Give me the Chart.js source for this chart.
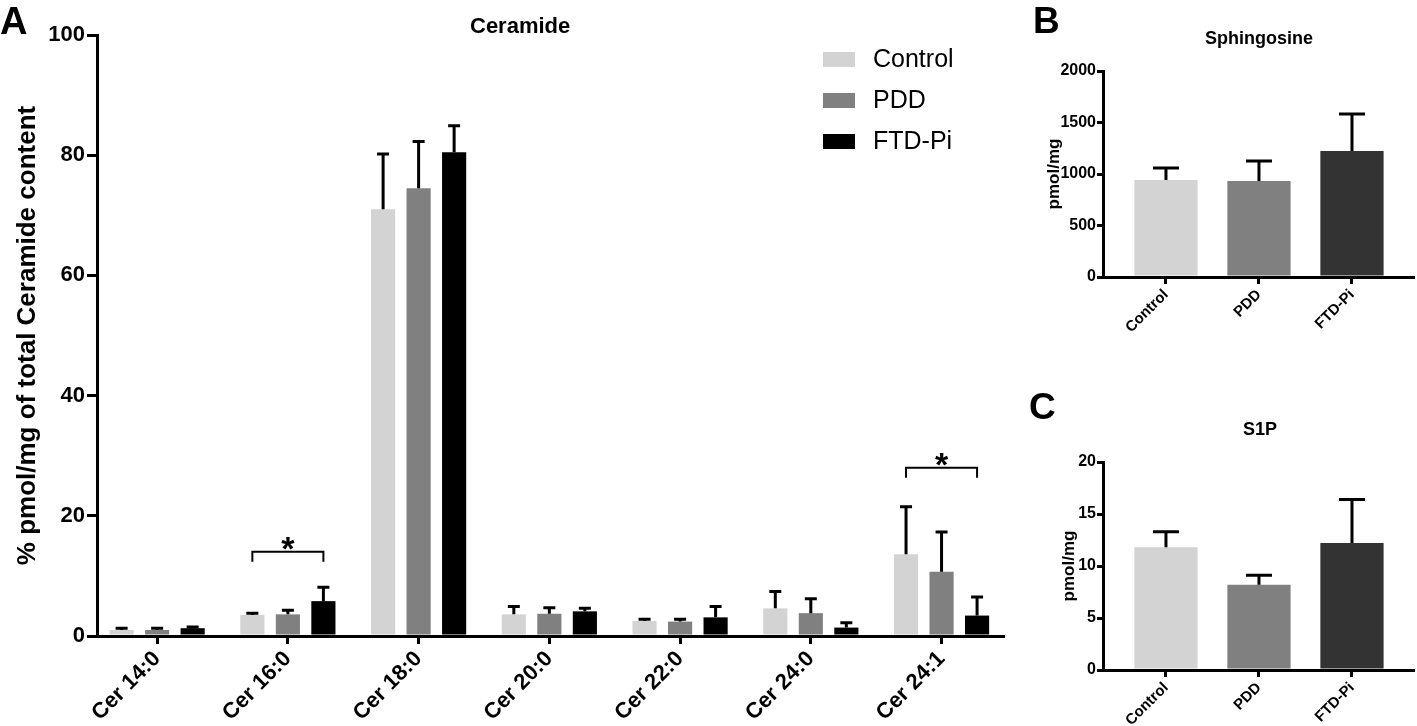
<!DOCTYPE html>
<html>
<head>
<meta charset="utf-8">
<script src="https://cdn.jsdelivr.net/npm/chart.js@4.4.1/dist/chart.umd.min.js"></script>
<style>
  body { margin: 0; background: #fff; }
  #page { position: relative; width: 1417px; height: 726px; overflow: hidden; background: #fff; }
  .box { position: absolute; }
  .txt { position: absolute; font-family: "Liberation Sans", Arial, sans-serif; font-weight: bold; color: #000; line-height: 1; white-space: nowrap; }
</style>
</head>
<body>
<div id="page">
  <div class="box" style="left:0;top:0;"><canvas id="chartA" width="1010" height="726"></canvas></div>
  <div class="box" style="left:1010px;top:0;"><canvas id="chartB" width="407" height="363"></canvas></div>
  <div class="box" style="left:1010px;top:363px;"><canvas id="chartC" width="407" height="363"></canvas></div>

  <div class="txt" style="left:0;top:2px;font-size:38px;">A</div>
  <div class="txt" style="left:1033px;top:2px;font-size:37px;">B</div>
  <div class="txt" style="left:1029px;top:388px;font-size:37px;">C</div>

  <div class="txt" style="left:470px;top:15px;font-size:22px;">Ceramide</div>
  <div class="txt" style="left:1205px;top:29px;font-size:18px;">Sphingosine</div>
  <div class="txt" style="left:1243px;top:420px;font-size:18px;">S1P</div>
</div>

<script>
// Panel A: ceramide species, % of total ceramide
const categories = ['Cer 14:0', 'Cer 16:0', 'Cer 18:0', 'Cer 20:0', 'Cer 22:0', 'Cer 24:0', 'Cer 24:1'];
const controlMean = [1.0, 3.5, 71.0, 3.6, 2.5, 4.6, 13.6];
const controlErr  = [0.3, 0.3, 9.2, 1.3, 0.3, 2.8, 7.9];
const pddMean     = [1.0, 3.6, 74.5, 3.7, 2.4, 3.8, 10.7];
const pddErr      = [0.3, 0.7, 7.8, 1.0, 0.4, 2.4, 6.6];
const ftdMean     = [1.3, 5.8, 80.5, 4.1, 3.1, 1.4, 3.4];
const ftdErr      = [0.2, 2.3, 4.4, 0.5, 1.8, 0.8, 3.1];
const yTicksA     = [0, 20, 40, 60, 80, 100];

// significance brackets (Control vs FTD-Pi)
const sigCategories = [1, 6];
const sigLevels     = [14.0, 28.0];

// Panels B and C
const groups  = ['Control', 'PDD', 'FTD-Pi'];
const sphMean = [942, 932, 1223];
const sphErr  = [116, 194, 360];
const s1pMean = [11.8, 8.2, 12.2];
const s1pErr  = [1.5, 0.9, 4.2];

const FONT = '"Liberation Sans", Arial, sans-serif';
const colorsA = ['#d3d3d3', '#808080', '#000000'];
const colorsBC = ['#d3d3d3', '#808080', '#333333'];

// one-sided (upper) error bars
const errorBars = {
  id: 'errorBars',
  afterDatasetsDraw(chart, args, opts) {
    const ctx = chart.ctx;
    const y = chart.scales.y;
    chart.data.datasets.forEach((ds, i) => {
      const meta = chart.getDatasetMeta(i);
      meta.data.forEach((bar, j) => {
        const top = y.getPixelForValue(ds.data[j] + ds.errors[j]);
        ctx.save();
        ctx.strokeStyle = '#000';
        ctx.lineWidth = opts.lineWidth;
        ctx.beginPath();
        ctx.moveTo(bar.x, bar.y);
        ctx.lineTo(bar.x, top);
        ctx.moveTo(bar.x - opts.cap / 2, top);
        ctx.lineTo(bar.x + opts.cap / 2, top);
        ctx.stroke();
        ctx.restore();
      });
    });
  }
};

// significance brackets with asterisk
const brackets = {
  id: 'brackets',
  afterDatasetsDraw(chart) {
    const ctx = chart.ctx;
    const y = chart.scales.y;
    const first = chart.getDatasetMeta(0).data;
    const last = chart.getDatasetMeta(chart.data.datasets.length - 1).data;
    sigCategories.forEach((c, k) => {
      const x1 = first[c].x, x2 = last[c].x;
      const yy = y.getPixelForValue(sigLevels[k]);
      ctx.save();
      ctx.strokeStyle = '#000';
      ctx.lineWidth = 2;
      ctx.beginPath();
      ctx.moveTo(x1, yy + 10);
      ctx.lineTo(x1, yy);
      ctx.lineTo(x2, yy);
      ctx.lineTo(x2, yy + 10);
      ctx.stroke();
      ctx.fillStyle = '#000';
      ctx.font = 'bold 34px ' + FONT;
      ctx.textAlign = 'center';
      ctx.textBaseline = 'alphabetic';
      ctx.fillText('*', (x1 + x2) / 2, yy + 8);
      ctx.restore();
    });
  }
};

// legend inside the plot area, top right
const boxLegend = {
  id: 'boxLegend',
  afterDraw(chart) {
    const ctx = chart.ctx;
    ctx.save();
    chart.data.datasets.forEach((ds, i) => {
      const cy = 59 + i * 41;
      ctx.fillStyle = ds.backgroundColor;
      ctx.fillRect(823, cy - 7, 32, 15);
      ctx.fillStyle = '#000';
      ctx.font = '25px ' + FONT;
      ctx.textAlign = 'left';
      ctx.textBaseline = 'middle';
      ctx.fillText(ds.label, 873, cy + 1);
    });
    ctx.restore();
  }
};

function axisCommon(tickLen, width) {
  return {
    grid: { display: true, drawOnChartArea: false, drawTicks: true, tickLength: tickLen, color: '#000', lineWidth: width, offset: false },
    border: { display: true, color: '#000', width: width }
  };
}

// category axis with custom outer gap (fraction of a category at the left, total span)
function categorySpan(start, range) {
  return s => { s._startValue = start; s._valueRange = range; };
}

// ---- Panel A ----
new Chart(document.getElementById('chartA').getContext('2d'), {
  type: 'bar',
  data: {
    labels: categories,
    datasets: [
      { label: 'Control', data: controlMean, errors: controlErr, backgroundColor: colorsA[0] },
      { label: 'PDD', data: pddMean, errors: pddErr, backgroundColor: colorsA[1] },
      { label: 'FTD-Pi', data: ftdMean, errors: ftdErr, backgroundColor: colorsA[2] }
    ]
  },
  options: {
    responsive: false,
    animation: false,
    layout: { padding: { top: 35, right: 7, left: 0, bottom: 0 } },
    datasets: { bar: { categoryPercentage: 0.815, barPercentage: 0.68, borderWidth: 0 } },
    plugins: {
      legend: { display: false },
      title: { display: false },
      tooltip: { enabled: false },
      errorBars: { lineWidth: 3, cap: 12 }
    },
    scales: {
      x: Object.assign(axisCommon(8, 3), {
        afterFit: s => { s.height = 90; },
        afterBuildTicks: categorySpan(-0.46, 6.93),
        ticks: { color: '#000', font: { family: FONT, size: 22, weight: 'bold' }, minRotation: 45, maxRotation: 45, padding: 2 }
      }),
      y: Object.assign(axisCommon(10, 3), {
        min: 0, max: 100,
        afterFit: s => { s.width = 97; },
        afterBuildTicks: s => { s.ticks = yTicksA.map(v => ({ value: v })); },
        ticks: { color: '#000', font: { family: FONT, size: 22, weight: 'bold' }, padding: 2 },
        title: { display: true, text: '% pmol/mg of total Ceramide content', color: '#000', font: { family: FONT, size: 26, weight: 'bold' }, padding: { top: 12, bottom: 0 } }
      })
    }
  },
  plugins: [errorBars, brackets, boxLegend]
});

// ---- Panels B and C ----
function smallPanel(id, means, errs, maxV, step, padTop, plotH, titlePad) {
  new Chart(document.getElementById(id).getContext('2d'), {
    type: 'bar',
    data: {
      labels: groups,
      datasets: [{ label: id, data: means, errors: errs, backgroundColor: colorsBC }]
    },
    options: {
      responsive: false,
      animation: false,
      layout: { padding: { top: padTop, right: 4, left: 0, bottom: 0 } },
      datasets: { bar: { categoryPercentage: 0.8, barPercentage: 0.85, borderWidth: 0 } },
      plugins: {
        legend: { display: false },
        title: { display: false },
        tooltip: { enabled: false },
        errorBars: { lineWidth: 3, cap: 26 }
      },
      scales: {
        x: Object.assign(axisCommon(7, 3), {
          afterFit: s => { s.height = 363 - padTop - plotH; },
          afterBuildTicks: categorySpan(-0.677, 3.333),
          ticks: { color: '#000', font: { family: FONT, size: 15, weight: 'bold' }, minRotation: 45, maxRotation: 45, padding: 2 }
        }),
        y: Object.assign(axisCommon(6, 3), {
          min: 0, max: maxV,
          afterFit: s => { s.width = 93; },
          ticks: { color: '#000', stepSize: step, font: { family: FONT, size: 16, weight: 'bold' }, padding: 1, callback: v => String(v) },
          title: { display: true, text: 'pmol/mg', color: '#000', font: { family: FONT, size: 17, weight: 'bold' }, padding: { top: titlePad, bottom: 0 } }
        })
      }
    },
    plugins: [errorBars]
  });
}

smallPanel('chartB', sphMean, sphErr, 2000, 500, 71, 206, 34);
smallPanel('chartC', s1pMean, s1pErr, 20, 5, 99, 208, 49);
</script>
</body>
</html>
